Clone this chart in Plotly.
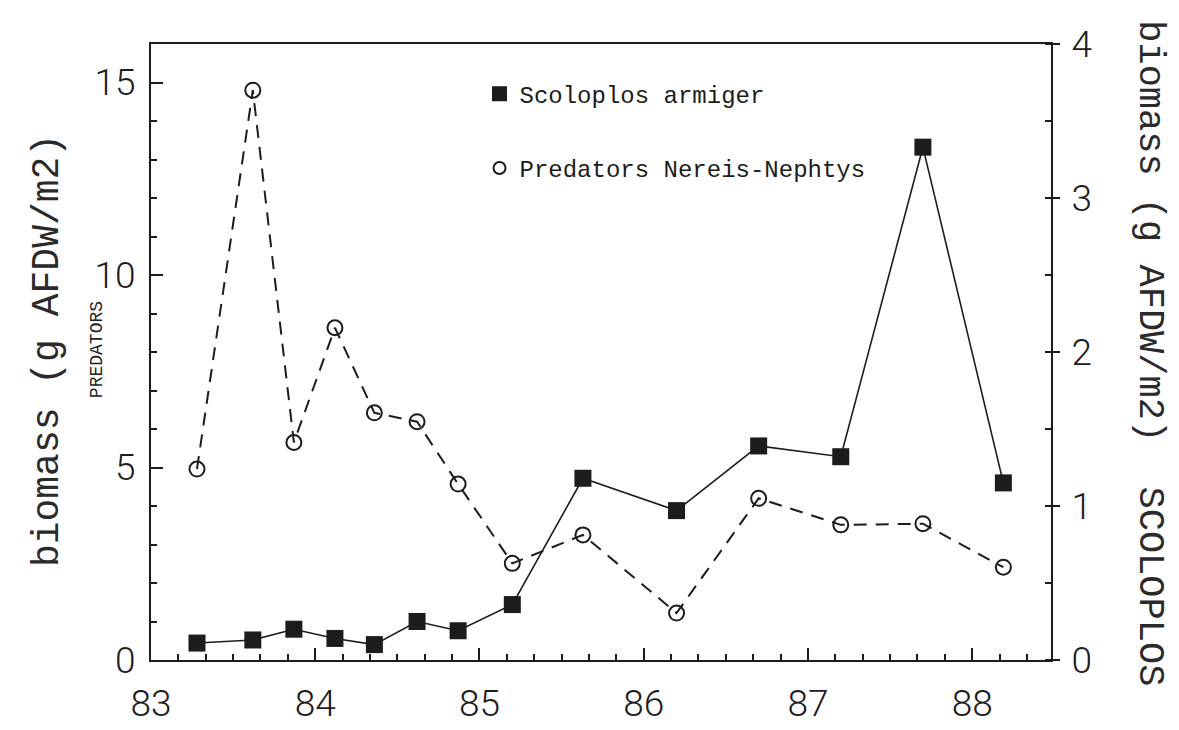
import plotly.graph_objects as go

# Sampling dates (decimal year, 19xx) shared by both series
years = [83.28, 83.62, 83.87, 84.12, 84.36, 84.62, 84.87,
         85.20, 85.63, 86.20, 86.70, 87.20, 87.70, 88.19]

# Scoloplos armiger biomass (g AFDW/m2), right axis
scoloplos = [0.11, 0.13, 0.20, 0.14, 0.10, 0.25, 0.19,
             0.36, 1.18, 0.97, 1.39, 1.32, 3.33, 1.15]

# Predators Nereis + Nephtys biomass (g AFDW/m2), left axis
predators = [4.96, 14.80, 5.65, 8.63, 6.42, 6.19, 4.57,
             2.51, 3.25, 1.22, 4.20, 3.51, 3.54, 2.41]

x_ticks = [83, 84, 85, 86, 87, 88]
left_ticks = [0, 5, 10, 15]
right_ticks = [0, 1, 2, 3, 4]

INK = "#1c1c1c"
TEXT_INK = "#2a2a2a"
TICK_FONT = dict(family="Roboto", size=37, color=INK, weight=300)
MONO = "Liberation Mono"

fig = go.Figure()

fig.add_trace(go.Scatter(
    x=years, y=predators, mode="lines+markers", yaxis="y",
    line=dict(color=INK, width=2, dash="13px,9px"),
    marker=dict(symbol="circle-open", size=15, color=INK, line=dict(width=2)),
    showlegend=False,
))
fig.add_trace(go.Scatter(
    x=years, y=scoloplos, mode="lines+markers", yaxis="y2",
    line=dict(color=INK, width=1.6),
    marker=dict(symbol="square", size=17, color=INK),
    showlegend=False,
))

# Legend entries (symbol only)
fig.add_trace(go.Scatter(
    x=[None], y=[None], mode="markers", name="Scoloplos armiger",
    marker=dict(symbol="square", size=15, color=INK),
    legendgroup="a",
))
fig.add_trace(go.Scatter(
    x=[None], y=[None], mode="markers", name="Predators Nereis-Nephtys",
    marker=dict(symbol="circle-open", size=12, color=INK, line=dict(width=2)),
    legendgroup="b",
))

fig.update_layout(
    width=1179, height=730,
    margin=dict(l=151, r=128, t=44, b=70, autoexpand=False),
    paper_bgcolor="white", plot_bgcolor="white",
    showlegend=True,
    legend=dict(
        x=0.365, y=0.955, xanchor="left", yanchor="top",
        bgcolor="rgba(0,0,0,0)", borderwidth=0,
        font=dict(family=MONO, size=24, color=INK),
        tracegroupgap=40, traceorder="grouped",
        itemwidth=30,
    ),
    xaxis=dict(
        range=[83, 88.48], tickmode="array", tickvals=x_ticks,
        ticktext=[str(v) for v in x_ticks],
        ticks="inside", ticklen=12, tickwidth=2, tickcolor=INK,
        minor=dict(dtick=1 / 6, tick0=83, ticks="inside", ticklen=6,
                   tickwidth=1.6, tickcolor=INK),
        showline=True, linecolor=INK, linewidth=2, mirror=True,
        showgrid=False, zeroline=False, automargin=False,
        tickfont=TICK_FONT, ticklabelstandoff=10,
    ),
    yaxis=dict(
        range=[0, 16], tickmode="array", tickvals=left_ticks,
        ticktext=[str(v) for v in left_ticks],
        ticks="inside", ticklen=12, tickwidth=2, tickcolor=INK,
        minor=dict(dtick=1, tick0=0, ticks="inside", ticklen=6,
                   tickwidth=1.6, tickcolor=INK),
        showline=True, linecolor=INK, linewidth=2,
        showgrid=False, zeroline=False, automargin=False,
        tickfont=TICK_FONT, ticklabelstandoff=6,
    ),
    yaxis2=dict(
        range=[0, 4], overlaying="y", side="right",
        tickmode="array", tickvals=right_ticks,
        ticktext=[str(v) for v in right_ticks],
        ticks="outside", ticklen=7, tickwidth=2, tickcolor=INK,
        minor=dict(dtick=0.5, tick0=0, ticks="inside", ticklen=6,
                   tickwidth=1.6, tickcolor=INK),
        showline=True, linecolor=INK, linewidth=2,
        showgrid=False, zeroline=False, automargin=False,
        tickfont=TICK_FONT, ticklabelstandoff=4,
    ),
    annotations=[
        dict(text="biomass (g AFDW/m2)", xref="paper", yref="paper",
             x=-0.1156, y=0.503, xanchor="center", yanchor="middle",
             textangle=-90, showarrow=False,
             font=dict(family=MONO, size=38, color=TEXT_INK)),
        dict(text="PREDATORS", xref="paper", yref="paper",
             x=-0.06, y=0.503, xanchor="center", yanchor="middle",
             textangle=-90, showarrow=False,
             font=dict(family=MONO, size=18, color=INK)),
        dict(text="biomass (g AFDW/m2)  SCOLOPLOS", xref="paper", yref="paper",
             x=1.11, y=0.498, xanchor="center", yanchor="middle",
             textangle=90, showarrow=False,
             font=dict(family=MONO, size=37, color=TEXT_INK)),
    ],
)

fig.write_html("out.html")
